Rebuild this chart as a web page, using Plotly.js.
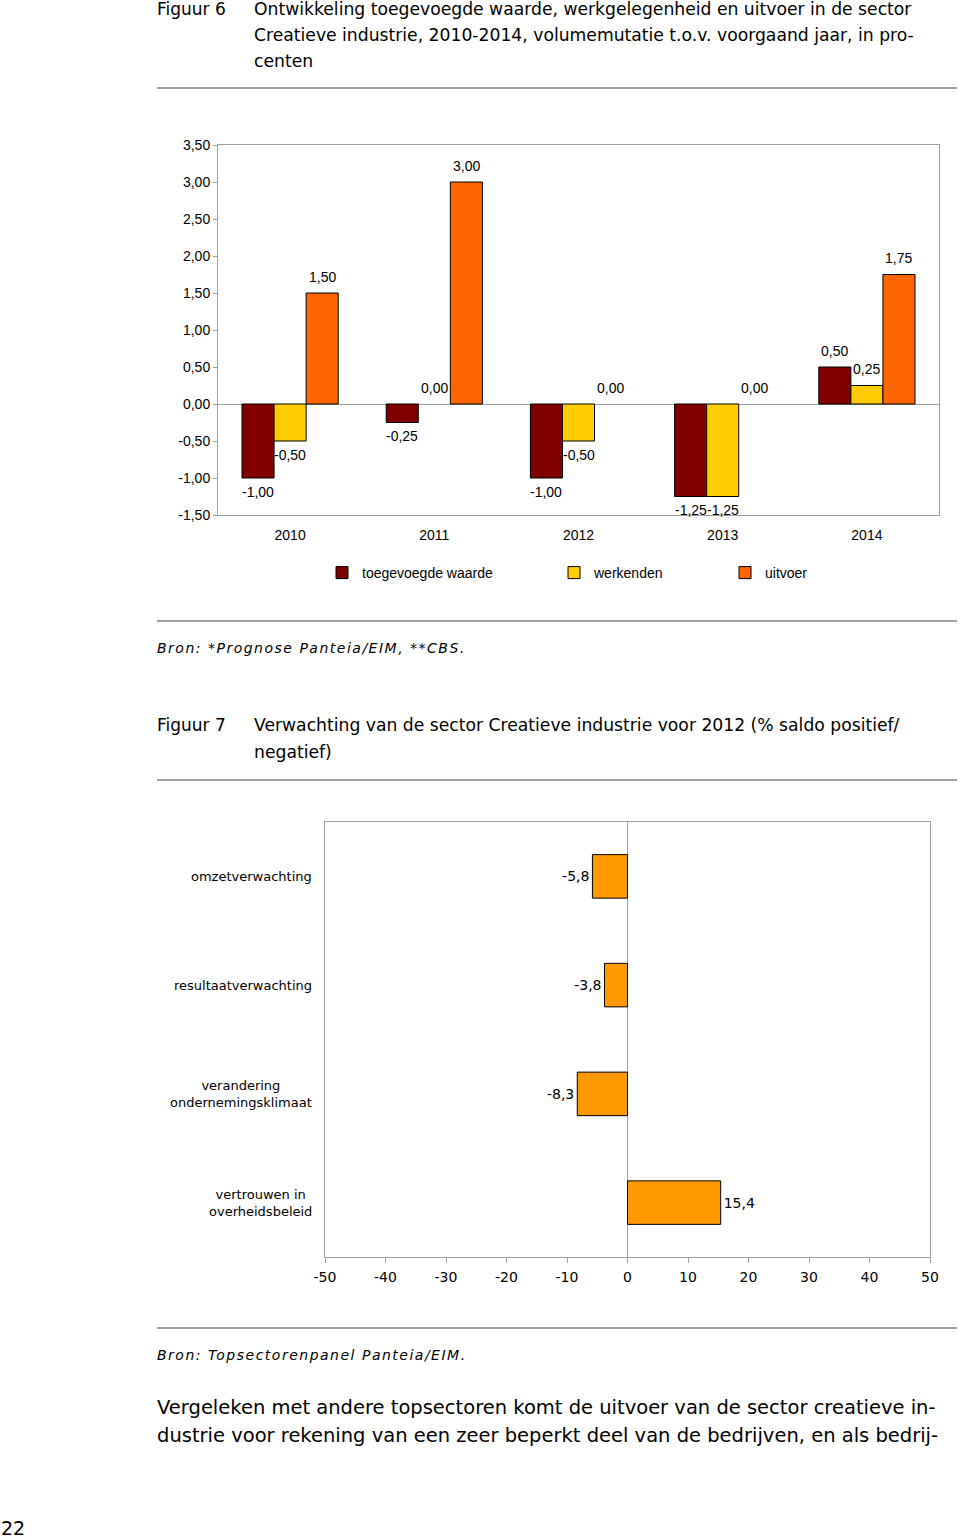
<!DOCTYPE html>
<html>
<head>
<meta charset="utf-8">
<script src="https://cdn.plot.ly/plotly-3.0.1.min.js"></script>
<style>html,body{margin:0;padding:0;background:#fff;}#chart{width:960px;height:1540px;}</style>
</head>
<body>
<div id="chart"></div>
<script>
// ---- Figuur 6 data ----
const years = ['2010', '2011', '2012', '2013', '2014'];
const toegevoegdeWaarde = [-1.00, -0.25, -1.00, -1.25, 0.50];
const werkenden = [-0.50, 0.00, -0.50, -1.25, 0.25];
const uitvoer = [1.50, 3.00, 0.00, 0.00, 1.75];
const seriesNames1 = ['toegevoegde waarde', 'werkenden', 'uitvoer'];
const yTicks1 = [-1.5, -1.0, -0.5, 0, 0.5, 1.0, 1.5, 2.0, 2.5, 3.0, 3.5];

// ---- Figuur 7 data ----
const categories2 = ['omzetverwachting', 'resultaatverwachting', 'verandering<br>ondernemingsklimaat', 'vertrouwen in<br>overheidsbeleid'];
const saldo = [-5.8, -3.8, -8.3, 15.4];
const xTicks2 = [-50, -40, -30, -20, -10, 0, 10, 20, 30, 40, 50];

// ---- page texts ----
const fig6Label = 'Figuur 6';
const fig6Title = ['Ontwikkeling toegevoegde waarde, werkgelegenheid en uitvoer in de sector',
  'Creatieve industrie, 2010-2014, volumemutatie t.o.v. voorgaand jaar, in pro-',
  'centen'];
const fig6Source = 'Bron: *Prognose Panteia/EIM, **CBS.';
const fig7Label = 'Figuur 7';
const fig7Title = ['Verwachting van de sector Creatieve industrie voor 2012 (% saldo positief/', 'negatief)'];
const fig7Source = 'Bron: Topsectorenpanel Panteia/EIM.';
const bodyText = ['Vergeleken met andere topsectoren komt de uitvoer van de sector creatieve in-',
  'dustrie voor rekening van een zeer beperkt deel van de bedrijven, en als bedrij-'];
const pageNumber = '22';

const W = 960, H = 1540;
const px = x => x / W;
const py = y => 1 - y / H;
const fmt = (v, d) => v.toFixed(d).replace('.', ',');

const ARIAL = 'Liberation Sans, Arial, sans-serif';
const VERD = 'DejaVu Sans, Verdana, sans-serif';
const GRAY = '#a0a0a0';

const colors1 = ['#800000', '#FFCC00', '#FF6600'];
const vals1 = [toegevoegdeWaarde, werkenden, uitvoer];
const legendIds = ['legend', 'legend2', 'legend3'];

const traces = vals1.map((v, i) => ({
  type: 'bar', x: years, y: v, name: seriesNames1[i],
  xaxis: 'x', yaxis: 'y', legend: legendIds[i],
  marker: {color: colors1[i], line: {color: '#000', width: v.map(val => val === 0 ? 0 : 1)}},
  hoverinfo: 'x+y'
}));

traces.push({
  type: 'bar', orientation: 'h', x: saldo, y: categories2, name: 'saldo',
  xaxis: 'x2', yaxis: 'y2', showlegend: false, width: 0.4,
  marker: {color: '#FF9900', line: {color: '#000', width: 1}},
  text: saldo.map(v => fmt(v, 1)), texttemplate: '%{text}', textposition: 'outside', cliponaxis: false,
  textfont: {family: VERD, size: 14, color: '#000'}
});

const annotations = [];
function txt(x, y, text, size, opts) {
  annotations.push(Object.assign({
    xref: 'paper', yref: 'paper', x: px(x - 2), y: py(y), text: text, showarrow: false,
    xanchor: 'left', yanchor: 'middle', font: {family: VERD, size: size, color: '#000'}
  }, opts || {}));
}
const spaced = t => '<span style="letter-spacing:1.5px"><i>' + t + '</i></span>';
txt(157, 9, fig6Label, 17);
fig6Title.forEach((t, i) => txt(254, 9 + i * 26, t, 17.2));
txt(157, 648, spaced(fig6Source), 14);
txt(157, 725, fig7Label, 17);
fig7Title.forEach((t, i) => txt(254, 725 + i * 27, t, 17.2));
txt(157, 1355, spaced(fig7Source), 14);
bodyText.forEach((t, i) => txt(157, 1407 + i * 28, t, 19.5));
txt(1, 1528, pageNumber, 19);

// data labels for figure 6 (Excel style: above positive, below negative bars)
const barPx = (721 / 5) * (2 / 3) / 3;
vals1.forEach((v, i) => v.forEach((val, j) => annotations.push({
  xref: 'x', yref: 'y', x: j, y: val, text: fmt(val, 2), showarrow: false,
  xanchor: 'center', yanchor: 'middle', xshift: (i - 1) * barPx, yshift: val >= 0 ? 16 : -14,
  font: {family: ARIAL, size: 14, color: '#000'}
})));

// category labels for figure 7 (centred multi-line, as in the original)
categories2.forEach((c, j) => annotations.push({
  xref: 'paper', yref: 'y2', x: px(314), y: j, text: c, showarrow: false,
  xanchor: 'right', yanchor: 'middle', align: 'center',
  font: {family: VERD, size: 13, color: '#000'}
}));

const hline = y => ({type: 'line', xref: 'paper', yref: 'paper', x0: px(157), x1: px(957),
  y0: py(y), y1: py(y), line: {color: GRAY, width: 2}});

const legendBase = {orientation: 'h', yanchor: 'middle', xanchor: 'left', y: py(573),
  font: {family: ARIAL, size: 14, color: '#000'}, bgcolor: 'rgba(0,0,0,0)', itemwidth: 30};

const layout = {
  width: W, height: H, margin: {l: 0, r: 0, t: 0, b: 0},
  paper_bgcolor: '#fff', plot_bgcolor: '#fff',
  separators: ',.',
  barmode: 'group', bargap: 0.333, bargroupgap: 0,
  showlegend: true,
  legend: Object.assign({}, legendBase, {x: px(322)}),
  legend2: Object.assign({}, legendBase, {x: px(554)}),
  legend3: Object.assign({}, legendBase, {x: px(725)}),
  xaxis: {domain: [px(218), px(939)], anchor: 'y', type: 'category', range: [-0.5, 4.5],
    showline: true, mirror: true, linecolor: GRAY, linewidth: 1, ticks: '',
    tickfont: {family: ARIAL, size: 14, color: '#000'}, ticklabelstandoff: 7, fixedrange: true},
  yaxis: {domain: [py(515), py(145)], anchor: 'x', range: [-1.5, 3.5],
    tickvals: yTicks1, ticktext: yTicks1.map(v => fmt(v, 2)),
    showgrid: false, zeroline: true, zerolinecolor: GRAY, zerolinewidth: 1,
    showline: true, mirror: true, linecolor: GRAY, linewidth: 1,
    ticks: 'outside', ticklen: 4, tickcolor: GRAY,
    tickfont: {family: ARIAL, size: 14, color: '#000'}, fixedrange: true},
  xaxis2: {domain: [px(325), px(930)], anchor: 'y2', range: [-50, 50],
    tickvals: xTicks2, ticktext: xTicks2.map(String),
    showgrid: false, zeroline: true, zerolinecolor: GRAY, zerolinewidth: 1,
    showline: true, mirror: true, linecolor: GRAY, linewidth: 1,
    ticks: 'outside', ticklen: 5, tickcolor: GRAY, ticklabelstandoff: 2,
    tickfont: {family: VERD, size: 14, color: '#000'}, fixedrange: true},
  yaxis2: {domain: [py(1257), py(822)], anchor: 'x2', type: 'category', range: [3.5, -0.5],
    showticklabels: false, ticks: '', showgrid: false,
    showline: true, mirror: true, linecolor: GRAY, linewidth: 1, fixedrange: true},
  annotations: annotations,
  shapes: [hline(88), hline(621), hline(780), hline(1328)]
};

Plotly.newPlot('chart', traces, layout, {displayModeBar: false, staticPlot: true});
</script>
</body>
</html>
